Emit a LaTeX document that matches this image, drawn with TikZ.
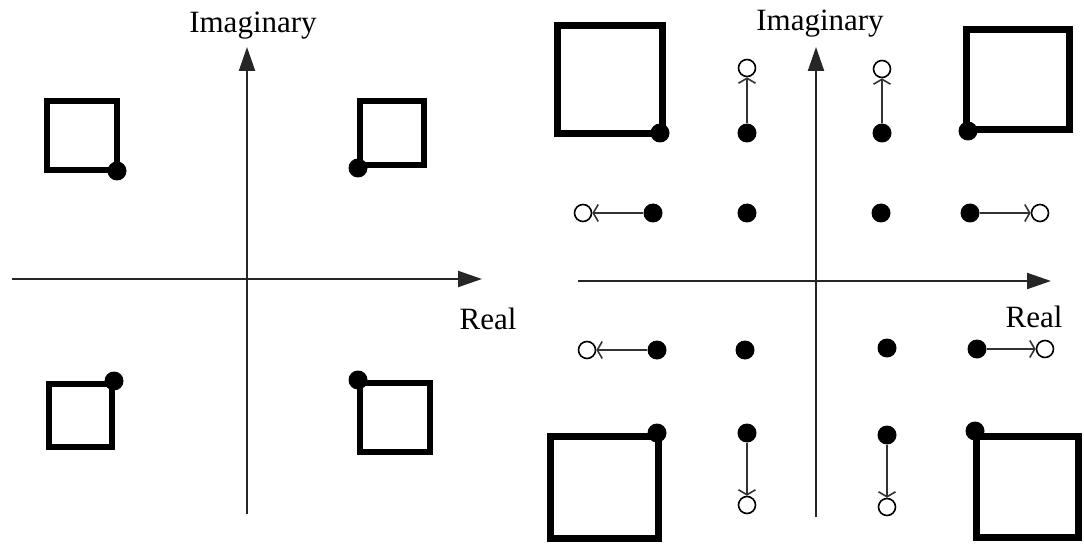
\documentclass[tikz,border=0pt]{standalone}
\usepackage{fontspec}
\setmainfont{Liberation Serif}
\usetikzlibrary{arrows.meta}
\begin{document}
\begin{tikzpicture}[x=1pt,y=-1pt,
  axis/.style={draw=black!85, line width=2pt, -{Triangle[length=24pt,width=16pt]}},
  lbl/.style={font=\fontsize{31}{36}\selectfont, anchor=base, inner sep=0pt},
  sqsmall/.style={draw=black, line width=6pt},
  sqbig/.style={draw=black, line width=7pt},
  pole/.style={circle, fill=black, inner sep=0pt, minimum size=19pt},
  hole/.style={circle, draw=black, line width=1.6pt, fill=white, inner sep=0pt, minimum size=17pt},
  move/.style={draw=black!80, line width=1.6pt, -{Straight Barb[length=5pt,width=17pt]}}
]
\useasboundingbox (0,0) rectangle (1084,545);

% ---------- left plane ----------
\coordinate (lxa) at (12,279);
\coordinate (lxb) at (482,279);
\coordinate (lya) at (247,514);
\coordinate (lyb) at (247,47);
\draw[axis] (lxa) -- (lxb);
\draw[axis] (lya) -- (lyb);
\node[lbl] (limag) at (253,33) {Imaginary};
\node[lbl] (lreal) at (488,329) {Real};

\draw[sqsmall] (47,101) rectangle (117,170);
\draw[sqsmall] (360,101) rectangle (424,165);
\draw[sqsmall] (49,384) rectangle (112,447);
\draw[sqsmall] (360,383) rectangle (430,452);

\node[pole] (la) at (117,171) {};
\node[pole] (lb) at (358,168) {};
\node[pole] (lc) at (114,381) {};
\node[pole] (ld) at (358,380) {};

% ---------- right plane ----------
\coordinate (rxa) at (578,281);
\coordinate (rxb) at (1051,281);
\coordinate (rya) at (816,517);
\coordinate (ryb) at (816,47);
\draw[axis] (rxa) -- (rxb);
\draw[axis] (rya) -- (ryb);
\node[lbl] (rimag) at (820,31) {Imaginary};
\node[lbl] (rreal) at (1034,327) {Real};

\draw[sqbig] (557.5,25.5) rectangle (662.5,133.5);
\draw[sqbig] (966.5,29.5) rectangle (1069.5,129.5);
\draw[sqbig] (550.5,436.5) rectangle (658.5,538.5);
\draw[sqbig] (976.5,436.5) rectangle (1078.5,537.5);

% corner poles
\node[pole] (c1) at (660,133) {};
\node[pole] (c2) at (968,131) {};
\node[pole] (c3) at (657,433) {};
\node[pole] (c4) at (975,431) {};

% inner poles
\node[pole] (p1) at (747,133) {};
\node[pole] (p2) at (882,133) {};
\node[pole] (p3) at (653,213) {};
\node[pole] (p4) at (747,213) {};
\node[pole] (p5) at (881,213) {};
\node[pole] (p6) at (970,213) {};
\node[pole] (p7) at (657,350) {};
\node[pole] (p8) at (745,350) {};
\node[pole] (p9) at (887,348) {};
\node[pole] (p10) at (977,349) {};
\node[pole] (p11) at (747,433) {};
\node[pole] (p12) at (887,435) {};

% displaced positions
\node[hole] (h1) at (747,68) {};
\node[hole] (h2) at (882,69) {};
\node[hole] (h3) at (583,213) {};
\node[hole] (h6) at (1040,213) {};
\node[hole] (h7) at (587,350) {};
\node[hole] (h10) at (1045,349) {};
\node[hole] (h11) at (747,505) {};
\node[hole] (h12) at (887,507) {};

\draw[move] (p1) -- (h1);
\draw[move] (p2) -- (h2);
\draw[move] (p3) -- (h3);
\draw[move] (p6) -- (h6);
\draw[move] (p7) -- (h7);
\draw[move] (p10) -- (h10);
\draw[move] (p11) -- (h11);
\draw[move] (p12) -- (h12);
\end{tikzpicture}
\end{document}
